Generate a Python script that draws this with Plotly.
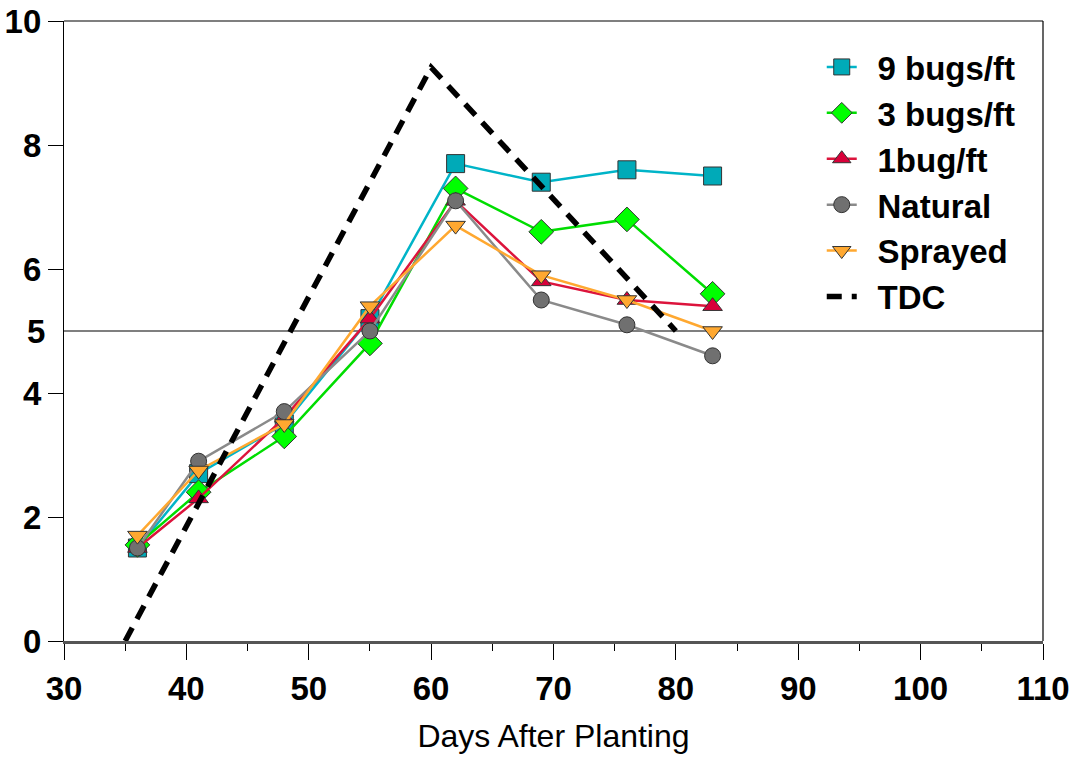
import plotly.graph_objects as go

days = [36, 41, 48, 55, 62, 69, 76, 83]
bugs9 = [1.5, 2.7, 3.5, 5.2, 7.7, 7.4, 7.6, 7.5]
bugs3 = [1.55, 2.4, 3.3, 4.8, 7.3, 6.6, 6.8, 5.6]
bug1 = [1.5, 2.3, 3.6, 5.2, 7.1, 5.8, 5.5, 5.4]
natural = [1.5, 2.9, 3.7, 5.0, 7.1, 5.5, 5.1, 4.6]
sprayed = [1.7, 2.75, 3.5, 5.4, 6.7, 5.9, 5.5, 5.0]
tdc_days = [35, 60, 80]
tdc_vals = [0, 9.25, 5]
threshold = 5
y_ticks = [0, 2, 4, 6, 8, 10]

FONT = "Liberation Sans, Arial, sans-serif"
GAP = "\u00a0\u2009"

series = [
    ("9 bugs/ft", bugs9, "#00B4C8", "#00AAB8", "square", 18),
    ("3 bugs/ft", bugs3, "#00DD00", "#00FF00", "diamond", 19),
    ("1bug/ft", bug1, "#DC143C", "#D8003A", "triangle-up", 17),
    ("Natural", natural, "#8A8A8A", "#707070", "circle", 16),
    ("Sprayed", sprayed, "#FFA830", "#FFA830", "triangle-down", 17),
]

fig = go.Figure()
for name, vals, lc, fc, sym, sz in series:
    fig.add_trace(go.Scatter(
        x=days, y=vals, name=GAP + name, mode="lines+markers",
        line=dict(color=lc, width=2.5),
        marker=dict(symbol=sym, size=sz, color=fc, line=dict(color="#333333", width=1)),
    ))

fig.add_trace(go.Scatter(
    x=tdc_days, y=tdc_vals, name=GAP + "TDC", mode="lines",
    line=dict(color="black", width=5.5, dash="15px,10px"),
))

fig.add_shape(type="line", xref="paper", yref="y", x0=0, x1=1, y0=threshold, y1=threshold,
              line=dict(color="#555555", width=1.5), layer="below")
# frame
fig.add_shape(type="line", xref="paper", yref="paper", x0=0, x1=1, y0=1, y1=1,
              line=dict(color="black", width=1.2))
fig.add_shape(type="line", xref="paper", yref="paper", x0=1, x1=1, y0=0, y1=1,
              line=dict(color="black", width=1.2))

fig.add_annotation(x=0, xref="paper", y=threshold, yref="y", text="5", showarrow=False,
                   xanchor="right", xshift=-17,
                   font=dict(family=FONT, size=33, color="black", weight="bold"))

fig.update_layout(
    width=1084, height=758,
    margin=dict(l=64, r=41, t=21, b=117),
    paper_bgcolor="white", plot_bgcolor="white",
    showlegend=True,
    legend=dict(x=0.774, y=0.971, xanchor="left", yanchor="top",
                bgcolor="rgba(0,0,0,0)",
                font=dict(family=FONT, size=33, color="black", weight="bold"),
                tracegroupgap=0),
    xaxis=dict(range=[30, 110], dtick=10, tick0=30, showgrid=False, zeroline=False,
               automargin=False, ticklabeloverflow="allow",
               showline=True, linecolor="#555555", linewidth=3,
               ticks="outside", ticklen=16, tickcolor="black", tickwidth=1,
               minor=dict(dtick=5, ticks="outside", ticklen=7, tickcolor="black", tickwidth=1),
               tickfont=dict(family=FONT, size=33, color="black", weight="bold"),
               title=dict(text="Days After Planting", standoff=20,
                          font=dict(family=FONT, size=32, color="black"))),
    yaxis=dict(range=[0, 10], tickvals=y_ticks, showgrid=False, zeroline=False,
               automargin=False, ticklabeloverflow="allow",
               showline=True, linecolor="black", linewidth=1.2,
               ticks="outside", ticklen=15, tickcolor="black", tickwidth=1,
               tickfont=dict(family=FONT, size=33, color="black", weight="bold")),
)

fig.write_html("out.html", config={"displayModeBar": False},
               post_script="document.body.style.margin='0px';")
